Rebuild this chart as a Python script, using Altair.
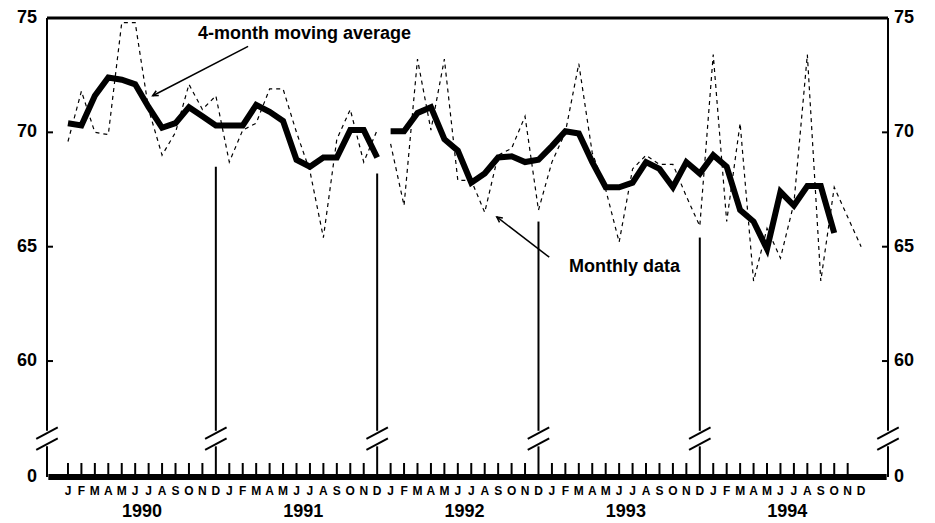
import pandas as pd
import altair as alt

# months indexed 0 = Jan 1990 ... 59 = Dec 1994
MONTHLY = [69.6, 71.8, 70.0, 69.9, 74.8, 74.8, 71.0, 69.0, 70.0, 72.1, 71.0, 71.6,
           68.7, 70.1, 70.4, 71.9, 71.9, 70.0, 68.3, 65.4, 69.7, 71.0, 68.7, 70.1,
           69.5, 66.8, 73.2, 70.1, 73.2, 67.9, 67.9, 66.5, 69.0, 69.3, 70.7, 66.6,
           68.7, 70.0, 73.0, 69.1, 67.5, 65.2, 68.4, 69.0, 68.6, 68.6, 67.2, 65.9,
           73.4, 66.1, 70.4, 63.5, 65.8, 64.5, 66.9, 73.4, 63.5, 67.6, 66.3, 65.0]
MOVING_AVG = [70.4, 70.3, 71.6, 72.4, 72.3, 72.1, 71.1, 70.2, 70.4, 71.1, 70.7, 70.3,
              70.3, 70.3, 71.2, 70.9, 70.5, 68.8, 68.5, 68.9, 68.9, 70.1, 70.1, 68.9,
              70.05, 70.05, 70.85, 71.1, 69.7, 69.2, 67.8, 68.2, 68.9, 68.95, 68.7, 68.8,
              69.4, 70.05, 69.95, 68.7, 67.6, 67.6, 67.8, 68.7, 68.4, 67.6, 68.7, 68.2,
              69.0, 68.5, 66.6, 66.1, 64.9, 67.4, 66.8, 67.65, 67.65, 65.6]
MONTH_LETTERS = list("JFMAMJJASOND")
YEARS = ["1990", "1991", "1992", "1993", "1994"]
DEC_TOPS = [68.5, 68.2, 66.1, 65.4]
Y_TICKS = [60, 65, 70, 75]

ZERO = 54.93     # where the broken axis puts 0
BRK = 56.37      # lower slash of the axis break
XMIN, XMAX = -1.56, 61.0
W, H = 841, 459
FONT = "Liberation Sans"

xs = alt.Scale(domain=[XMIN, XMAX], nice=False, zero=False)
ys = alt.Scale(domain=[ZERO, 75], nice=False, zero=False)
X = lambda f: alt.X(f, type="quantitative", scale=xs, axis=None)
Y = lambda f: alt.Y(f, type="quantitative", scale=ys, axis=None)

monthly = pd.DataFrame({"m": range(60), "v": MONTHLY,
                        "seg": [0 if i < 24 else 1 for i in range(60)]})
avg = pd.DataFrame({"m": range(len(MOVING_AVG)), "v": MOVING_AVG,
                    "seg": [0 if i < 24 else 1 for i in range(len(MOVING_AVG))]})

dash = alt.Chart(monthly).mark_line(color="black", strokeWidth=1.2, strokeDash=[4, 4]).encode(
    x=X("m"), y=Y("v"), detail="seg:N")
thick = alt.Chart(avg).mark_line(color="black", strokeWidth=6, strokeJoin="miter").encode(
    x=X("m"), y=Y("v"), detail="seg:N")

# vertical lines (Dec of each year, plus left and right axes), split by the break
vx = [11, 23, 35, 47]
vert_rows = []
for x, top in zip(vx, DEC_TOPS):
    vert_rows += [{"x": x, "y": ZERO, "y2": BRK - 0.1}, {"x": x, "y": BRK + 0.58, "y2": top}]
for x in [XMIN, XMAX]:
    vert_rows += [{"x": x, "y": ZERO, "y2": BRK - 0.1}, {"x": x, "y": BRK + 0.58, "y2": 75}]
verts = alt.Chart(pd.DataFrame(vert_rows)).mark_rule(color="black", strokeWidth=2).encode(
    x=X("x"), y=Y("y"), y2="y2")

slash_rows = []
for x in vx + [XMIN, XMAX]:
    for off in [0, 0.48]:
        slash_rows.append({"x": x - 0.8, "x2": x + 0.8, "y": BRK - 0.25 + off, "y2": BRK + 0.25 + off})
slashes = alt.Chart(pd.DataFrame(slash_rows)).mark_rule(color="black", strokeWidth=2, clip=False).encode(
    x=X("x"), x2="x2", y=Y("y"), y2="y2")

# month tick marks and thick baseline
ticks = alt.Chart(pd.DataFrame({"m": [i for i in range(60) if i % 12 != 11]})).mark_rule(
    color="black", strokeWidth=2).encode(x=X("m"), y=alt.value(H - 14), y2=alt.value(H))
base = alt.Chart(pd.DataFrame({"a": [XMIN + 0.1], "b": [XMAX - 0.1]})).mark_rule(
    color="black", strokeWidth=6, clip=False).encode(x=X("a"), x2="b", y=alt.value(H))
topline = alt.Chart(pd.DataFrame({"a": [XMIN], "b": [XMAX]})).mark_rule(
    color="black", strokeWidth=3).encode(x=X("a"), x2="b", y=alt.value(0))

# axis labels
months = pd.DataFrame({"m": range(60), "t": [MONTH_LETTERS[i % 12] for i in range(60)]})
mlab = alt.Chart(months).mark_text(font=FONT, fontWeight="bold", fontSize=12, baseline="middle").encode(
    x=X("m"), y=alt.value(H + 14), text="t")
years = pd.DataFrame({"m": [5.5 + 12 * i for i in range(5)], "t": YEARS})
ylab = alt.Chart(years).mark_text(font=FONT, fontWeight="bold", fontSize=18, baseline="middle").encode(
    x=X("m"), y=alt.value(H + 35), text="t")
yt = pd.DataFrame({"v": [ZERO] + Y_TICKS, "t": ["0"] + [str(v) for v in Y_TICKS]})
left = alt.Chart(yt).mark_text(font=FONT, fontWeight="bold", fontSize=18, align="right").encode(
    x=alt.value(-10), y=Y("v"), text="t")
right = alt.Chart(yt).mark_text(font=FONT, fontWeight="bold", fontSize=18, align="left").encode(
    x=alt.value(W + 6), y=Y("v"), text="t")
ytick_l = alt.Chart(pd.DataFrame({"v": Y_TICKS[:-1]})).mark_rule(color="black", strokeWidth=2).encode(
    x=alt.value(0), x2=alt.value(6), y=Y("v"))
ytick_r = alt.Chart(pd.DataFrame({"v": Y_TICKS[:-1]})).mark_rule(color="black", strokeWidth=2).encode(
    x=alt.value(W - 6), x2=alt.value(W), y=Y("v"))

# annotations
notes = pd.DataFrame({"m": [17.6, 41.4], "v": [74.3, 64.1],
                      "t": ["4-month moving average", "Monthly data"]})
ntext = alt.Chart(notes).mark_text(font=FONT, fontWeight="bold", fontSize=18).encode(
    x=X("m"), y=Y("v"), text="t")
arrows = pd.DataFrame({"m": [13.4, 35.8], "v": [73.76, 64.54], "m2": [6.3, 31.9], "v2": [71.6, 66.3]})
alines = alt.Chart(arrows).mark_rule(color="black", strokeWidth=1.5).encode(
    x=X("m"), y=Y("v"), x2="m2", y2="v2")
heads = pd.DataFrame({"m": [6.3, 31.9], "v": [71.6, 66.3], "ang": [242, 307]})
aheads = alt.Chart(heads).mark_point(shape="M -0.5 1 L 0 0 L 0.5 1", filled=False, color="black",
                                     strokeWidth=1.5, size=120, opacity=1).encode(
    x=X("m"), y=Y("v"), angle=alt.Angle("ang:Q", scale=None))

chart = alt.layer(dash, thick, verts, slashes, ticks, base, topline, mlab, ylab, left, right,
                  ytick_l, ytick_r, alines, aheads, ntext).properties(
    width=W, height=H, background="white",
    autosize=alt.AutoSizeParams(type="none"),
    padding={"left": 39, "top": 10, "right": 30, "bottom": 50},
).configure_view(stroke=None)

chart.save("out.html", embed_options={"renderer": "svg", "actions": False})
